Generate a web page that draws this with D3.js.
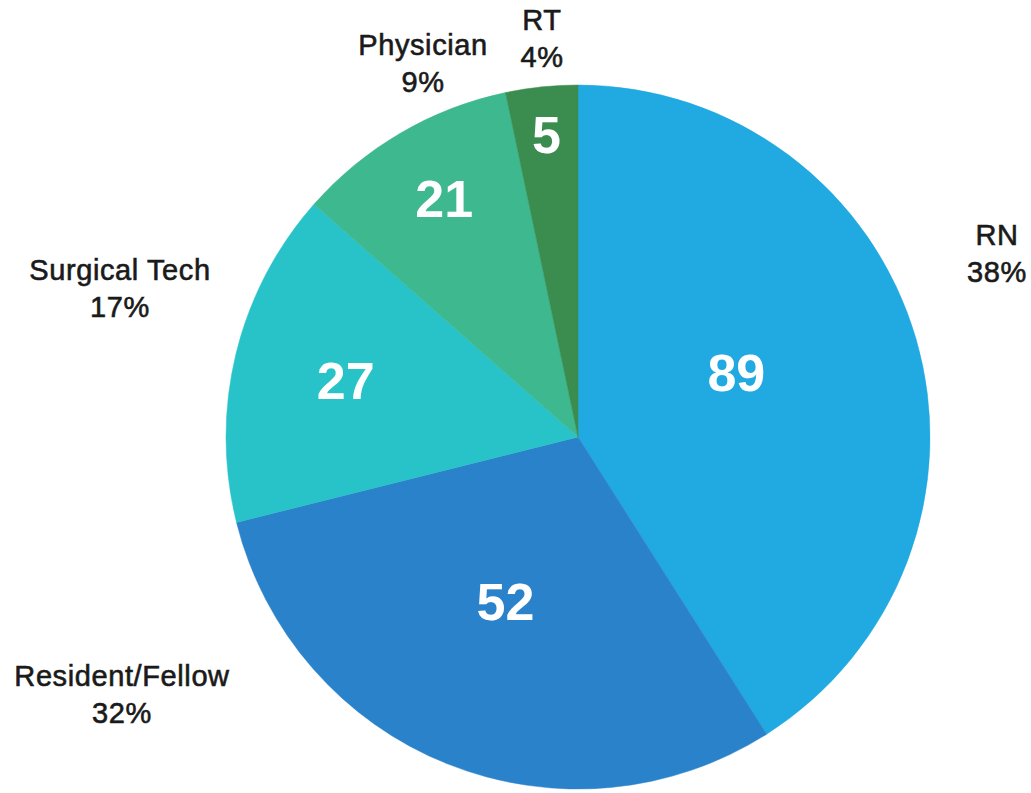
<!DOCTYPE html>
<html>
<head>
<meta charset="utf-8">
<script src="https://cdn.jsdelivr.net/npm/d3@7"></script>
<style>
  html, body { margin: 0; padding: 0; background: #fff; }
  svg { display: block; }
</style>
</head>
<body>
<svg id="chart"></svg>
<script>
// Chart data
const categories = ['RN', 'Resident/Fellow', 'Surgical Tech', 'Physician', 'RT'];
const counts = [89, 52, 27, 21, 5];
const percentLabels = ['38%', '32%', '17%', '9%', '4%'];
// slice share of the circle (in %)
const sliceShare = [41, 30.1, 15.4, 10.2, 3.3];

const colors = ['#21a9e1', '#2a82ca', '#28c3c9', '#3db88f', '#3a8c4f'];

// Layout
const width = 1031;
const height = 793;
const cx = 578;
const cy = 437;
const radius = 352;

// radius for the white count inside each slice, and angle nudge (deg)
const innerLabel = {
  'RN': { r: 171, da: -6 },
  'Resident/Fellow': { r: 180, da: 2 },
  'Surgical Tech': { r: 239, da: 0 },
  'Physician': { r: 274, da: 1 },
  'RT': { r: 304, da: 0 }
};
// outer name / percent label anchor
const outerLabel = {
  'RN': { x: 997, y: 245 },
  'Resident/Fellow': { x: 122, y: 686 },
  'Surgical Tech': { x: 120, y: 280 },
  'Physician': { x: 423, y: 55 },
  'RT': { x: 542, y: 30 }
};

const svg = d3.select('#chart')
  .attr('width', width)
  .attr('height', height);

const g = svg.append('g')
  .attr('transform', `translate(${cx}, ${cy})`);

const data = categories.map((c, i) => ({
  name: c,
  count: counts[i],
  pct: percentLabels[i],
  share: sliceShare[i],
  color: colors[i]
}));

const pie = d3.pie()
  .value(d => d.share)
  .sort(null);

const arc = d3.arc()
  .innerRadius(0)
  .outerRadius(radius);

const arcs = pie(data);

g.selectAll('path.slice')
  .data(arcs)
  .enter()
  .append('path')
  .attr('class', 'slice')
  .attr('d', arc)
  .attr('fill', d => d.data.color)
  .attr('stroke', d => d.data.color)
  .attr('stroke-width', 0.5);

// counts inside slices
function labelPos(d) {
  const L = innerLabel[d.data.name];
  const a = (d.startAngle + d.endAngle) / 2 + L.da * Math.PI / 180;
  return [L.r * Math.sin(a), -L.r * Math.cos(a)];
}

g.selectAll('text.count')
  .data(arcs)
  .enter()
  .append('text')
  .attr('class', 'count')
  .attr('x', d => labelPos(d)[0])
  .attr('y', d => labelPos(d)[1])
  .attr('dy', '0.36em')
  .attr('text-anchor', 'middle')
  .attr('fill', '#fff')
  .style('font-family', '"Liberation Sans", Arial, sans-serif')
  .style('font-weight', 'bold')
  .style('font-size', '52px')
  .text(d => d.data.count);

// outer labels
const outer = svg.selectAll('text.outer')
  .data(data)
  .enter()
  .append('text')
  .attr('class', 'outer')
  .attr('text-anchor', 'middle')
  .attr('fill', '#1a1a1a')
  .attr('stroke', '#1a1a1a')
  .attr('stroke-width', 0.6)
  .style('font-family', '"Liberation Sans", Arial, sans-serif')
  .style('font-size', '29px')
  .style('letter-spacing', '0.6px')
  .attr('transform', d => `translate(${outerLabel[d.name].x}, ${outerLabel[d.name].y})`);

outer.append('tspan')
  .attr('x', 0)
  .attr('y', 0)
  .text(d => d.name);

outer.append('tspan')
  .attr('x', 0)
  .attr('y', 37)
  .text(d => d.pct);
</script>
</body>
</html>
